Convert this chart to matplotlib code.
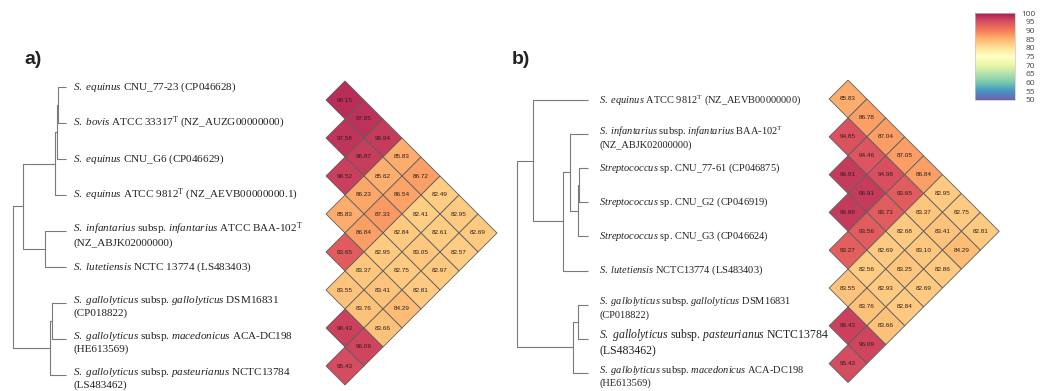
# ANI heatmaps with dendrograms (panels a and b)
import numpy as np
import matplotlib as mpl
import matplotlib.pyplot as plt
from matplotlib.patches import Polygon

plt.rcParams['font.family'] = ['Liberation Serif', 'DejaVu Serif']
plt.rcParams['mathtext.fontset'] = 'custom'
plt.rcParams['mathtext.rm'] = 'Liberation Serif'
plt.rcParams['mathtext.it'] = 'Liberation Serif:italic'

# ==============================================================================
# Data

labelsA = [
    r"$\mathit{S.\ equinus}$ CNU_77-23 (CP046628)",
    r"$\mathit{S.\ bovis}$ ATCC 33317$^{\mathrm{T}}$ (NZ_AUZG00000000)",
    r"$\mathit{S.\ equinus}$ CNU_G6 (CP046629)",
    r"$\mathit{S.\ equinus}$ ATCC 9812$^{\mathrm{T}}$ (NZ_AEVB00000000.1)",
    r"$\mathit{S.\ infantarius}$ subsp. $\mathit{infantarius}$ ATCC BAA-102$^{\mathrm{T}}$" + "\n(NZ_ABJK02000000)",
    r"$\mathit{S.\ lutetiensis}$ NCTC 13774 (LS483403)",
    r"$\mathit{S.\ gallolyticus}$ subsp. $\mathit{gallolyticus}$ DSM16831" + "\n(CP018822)",
    r"$\mathit{S.\ gallolyticus}$ subsp. $\mathit{macedonicus}$ ACA-DC198" + "\n(HE613569)",
    r"$\mathit{S.\ gallolyticus}$ subsp. $\mathit{pasteurianus}$ NCTC13784" + "\n(LS483462)",
]

# upper triangle, row i holds ANI(i, j) for j > i
aniA = [
    [98.15, 97.85, 96.94, 85.83, 86.72, 82.49, 82.95, 82.69],
    [97.58, 96.87, 85.62, 86.54, 82.41, 82.61, 82.57],
    [96.52, 86.23, 87.33, 82.84, 83.05, 82.97],
    [85.83, 86.84, 82.95, 82.75, 82.81],
    [93.65, 83.37, 83.41, 84.29],
    [83.55, 83.76, 83.66],
    [96.43, 96.09],
    [95.43],
]

# merges: (child a, child b, node height); new nodes numbered from 9
treeA = [(0, 1, 8), (9, 2, 9), (10, 3, 11), (4, 5, 21),
         (11, 12, 43), (6, 7, 14), (14, 8, 16), (13, 15, 53)]

labelsB = [
    r"$\mathit{S.\ equinus}$ ATCC 9812$^{\mathrm{T}}$ (NZ_AEVB00000000)",
    r"$\mathit{S.\ infantarius}$ subsp. $\mathit{infantarius}$ BAA-102$^{\mathrm{T}}$" + "\n(NZ_ABJK02000000)",
    r"$\mathit{Streptococcus}$ sp. CNU_77-61 (CP046875)",
    r"$\mathit{Streptococcus}$ sp. CNU_G2 (CP046919)",
    r"$\mathit{Streptococcus}$ sp. CNU_G3 (CP046624)",
    r"$\mathit{S.\ lutetiensis}$ NCTC13774 (LS483403)",
    r"$\mathit{S.\ gallolyticus}$ subsp. $\mathit{gallolyticus}$ DSM16831" + "\n(CP018822)",
    r"$\mathit{S.\ gallolyticus}$ subsp. $\mathit{pasteurianus}$ NCTC13784" + "\n(LS483462)",
    r"$\mathit{S.\ gallolyticus}$ subsp. $\mathit{macedonicus}$ ACA-DC198" + "\n(HE613569)",
]

aniB = [
    [85.83, 86.78, 87.04, 87.05, 86.84, 82.95, 82.75, 82.81],
    [94.85, 94.46, 94.98, 93.65, 83.37, 83.41, 84.29],
    [96.91, 96.91, 93.73, 82.68, 83.10, 82.86],
    [96.89, 93.56, 82.69, 83.25, 82.69],
    [93.27, 82.56, 82.93, 82.84],
    [83.55, 83.76, 83.66],
    [96.43, 96.09],
    [95.43],
]

treeB = [(2, 3, 9), (9, 4, 10), (1, 10, 18), (11, 5, 25),
         (0, 12, 55), (6, 7, 10), (14, 8, 15), (13, 15, 71)]

cbTicks = list(range(50, 101, 5))

# ==============================================================================
# Layout / style
W, H = 1043, 391
# Spectral_r, slightly washed out like the original
base = plt.get_cmap('Spectral_r')(np.linspace(0, 1, 256))
base[:, :3] = base[:, :3] * 0.9 + 0.1
cmap = mpl.colors.ListedColormap(base)
norm = mpl.colors.Normalize(vmin=50, vmax=100)
treeColor = '#7a7a7a'
textColor = '#222222'


def drawTree(ax, merges, leafY, tipX):
    posY = list(leafY)
    posX = [tipX] * len(leafY)
    for a, b, h in merges:
        x = tipX - h
        ya, yb = posY[a], posY[b]
        ax.plot([posX[a], x, x, posX[b]], [ya, ya, yb, yb],
                color=treeColor, lw=0.8, solid_capstyle='butt')
        posY.append((ya + yb) / 2.)
        posX.append(x)


def drawLabels(ax, labels, leafY, x, size, bigger=None):
    for k, (lab, y) in enumerate(zip(labels, leafY)):
        fs = size
        if bigger is not None and k in bigger:
            fs = bigger[k]
        if '\n' in lab:
            ax.text(x, y + 3, lab, fontsize=fs, color=textColor,
                    va='center', ha='left', linespacing=1.25)
        else:
            ax.text(x, y, lab, fontsize=fs, color=textColor,
                    va='center', ha='left')


def drawTriangle(ax, ani, x0, y0, s):
    for i, row in enumerate(ani):
        for k, v in enumerate(row):
            j = i + 1 + k
            cx = x0 + (j - i - 1) * s
            cy = y0 + (i + j - 1) * s
            poly = Polygon([(cx - s, cy), (cx, cy - s), (cx + s, cy), (cx, cy + s)],
                           closed=True, facecolor=cmap(norm(v)),
                           edgecolor='#5e5e5e', lw=0.6)
            ax.add_patch(poly)
            ax.text(cx, cy, '%.2f' % v, fontsize=4.6, family='Liberation Sans',
                    color='#2e1f1f', ha='center', va='center')


fig = plt.figure(figsize=(W / 100., H / 100.), dpi=100)
ax = fig.add_axes([0, 0, 1, 1])
ax.set_xlim(0, W)
ax.set_ylim(H, 0)
ax.axis('off')

# --- panel a
leafYA = [87 + 36 * i for i in range(len(labelsA))]
drawTree(ax, treeA, leafYA, 66)
drawLabels(ax, labelsA, leafYA, 73, 8)
drawTriangle(ax, aniA, 345, 100, 19)
ax.text(24, 60, 'a)', fontsize=14, fontweight='bold', family='Liberation Sans',
        color=textColor, ha='left', va='center')

# --- panel b
leafYB = [100 + 34.1 * i for i in range(len(labelsB))]
drawTree(ax, treeB, leafYB, 588)
drawLabels(ax, labelsB, leafYB, 599, 7.5, bigger={7: 8.5})
drawTriangle(ax, aniB, 848, 99, 18.9)
ax.text(512, 60, 'b)', fontsize=14, fontweight='bold', family='Liberation Sans',
        color=textColor, ha='left', va='center')

# --- colour bar
cax = fig.add_axes([975. / W, 1 - 100. / H, 40. / W, 87. / H])
cb = fig.colorbar(mpl.cm.ScalarMappable(norm=norm, cmap=cmap), cax=cax, ticks=cbTicks)
cb.outline.set_edgecolor('#c8c8c8')
cb.outline.set_linewidth(0.5)
cax.tick_params(length=0, labelsize=6, colors='#444444', pad=14.5)
for lab in cax.get_yticklabels():
    lab.set_family('Open Sans')
    lab.set_ha('right')

fig.savefig('out.png', dpi=100)
